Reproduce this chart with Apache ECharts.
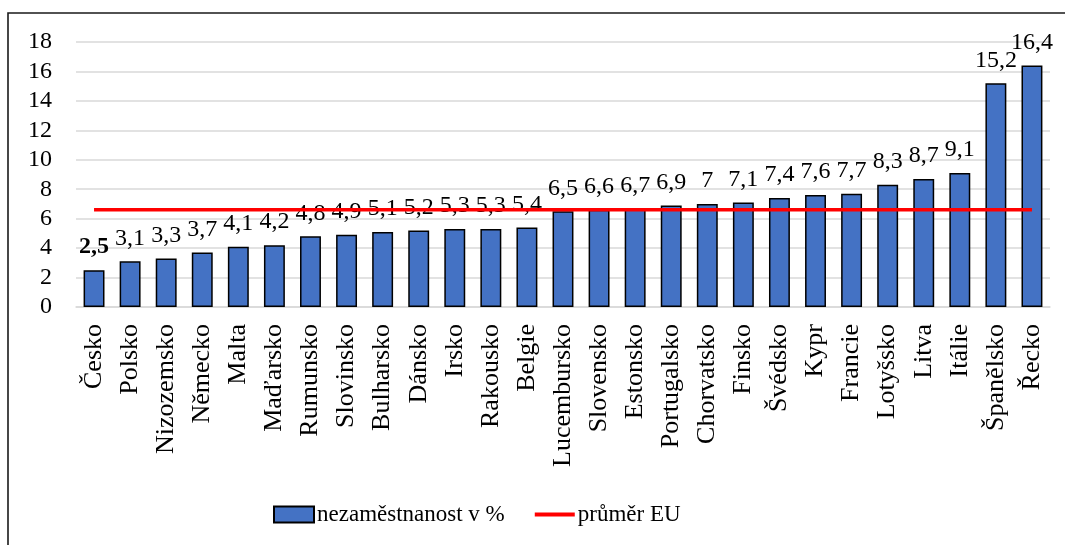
<!DOCTYPE html>
<html>
<head>
<meta charset="utf-8">
<script src="https://cdn.jsdelivr.net/npm/echarts@6/dist/echarts.min.js"></script>
<style>
    html, body { margin: 0; padding: 0; background: #fff; }
    #chart { width: 1065px; height: 545px; }
</style>
</head>
<body>
<div id="chart"></div>
<script>
(function (window, echarts) {
    'use strict';

    const countries = ['Česko', 'Polsko', 'Nizozemsko', 'Německo', 'Malta', 'Maďarsko', 'Rumunsko',
        'Slovinsko', 'Bulharsko', 'Dánsko', 'Irsko', 'Rakousko', 'Belgie', 'Lucembursko', 'Slovensko',
        'Estonsko', 'Portugalsko', 'Chorvatsko', 'Finsko', 'Švédsko', 'Kypr', 'Francie', 'Lotyšsko',
        'Litva', 'Itálie', 'Španělsko', 'Řecko'];
    const unemployment = [2.5, 3.1, 3.3, 3.7, 4.1, 4.2, 4.8, 4.9, 5.1, 5.2, 5.3, 5.3, 5.4, 6.5, 6.6,
        6.7, 6.9, 7, 7.1, 7.4, 7.6, 7.7, 8.3, 8.7, 9.1, 15.2, 16.4];
    const euAverage = 6.6;
    const highlighted = 'Česko';

    const font = 'Liberation Serif, Times New Roman, serif';

    // czech decimal comma
    const fmt = (v) => String(v).replace('.', ',');

    const barData = unemployment.map((v, i) => {
        const item = {value: v};
        if (countries[i] === highlighted) item.label = {fontWeight: 'bold'};
        return item;
    });

    const chart = echarts.init(document.getElementById('chart'), null, {renderer: 'canvas'});

    chart.setOption({
        animation: false,
        textStyle: {fontFamily: font, color: '#000'},
        grid: {left: 76, right: 15, top: 42, bottom: 238},
        graphic: [{
            type: 'polyline',
            silent: true,
            shape: {points: [[8, 600], [8, 13], [1100, 13]]},
            style: {stroke: '#1a1a1a', lineWidth: 1.6, fill: null}
        }],
        legend: {
            bottom: 14,
            left: 268,
            itemWidth: 40,
            itemHeight: 16,
            itemGap: 30,
            symbolKeepAspect: true,
            textStyle: {fontFamily: font, fontSize: 23, color: '#000', padding: [0, 0, 0, -2]},
            data: [
                {name: 'nezaměstnanost v %', icon: 'rect'},
                {name: 'průměr EU', icon: 'path://M0,0H40V4H0Z'}
            ]
        },
        xAxis: {
            type: 'category',
            data: countries,
            axisLine: {lineStyle: {color: '#d9d9d9', width: 1.5}},
            axisTick: {show: false},
            axisLabel: {
                rotate: 90,
                interval: 0,
                margin: 17,
                fontFamily: font,
                fontSize: 26,
                color: '#000'
            }
        },
        yAxis: {
            type: 'value',
            min: 0,
            max: 18,
            interval: 2,
            axisLine: {show: false},
            axisTick: {show: false},
            splitLine: {lineStyle: {color: '#d9d9d9', width: 1.5}},
            axisLabel: {margin: 24, fontFamily: font, fontSize: 24, color: '#000'}
        },
        series: [{
            name: 'nezaměstnanost v %',
            type: 'bar',
            barWidth: '58%',
            data: barData,
            itemStyle: {color: '#4472C4', borderColor: '#000', borderWidth: 1.5},
            label: {
                show: true,
                position: 'top',
                distance: 11,
                fontFamily: font,
                fontSize: 24,
                color: '#000',
                formatter: (p) => fmt(p.value)
            }
        }, {
            name: 'průměr EU',
            type: 'line',
            data: countries.map(() => euAverage),
            symbol: 'none',
            z: 5,
            lineStyle: {color: '#ff0000', width: 3.5},
            itemStyle: {color: '#ff0000'}
        }]
    });

})(window, echarts);
</script>
</body>
</html>
